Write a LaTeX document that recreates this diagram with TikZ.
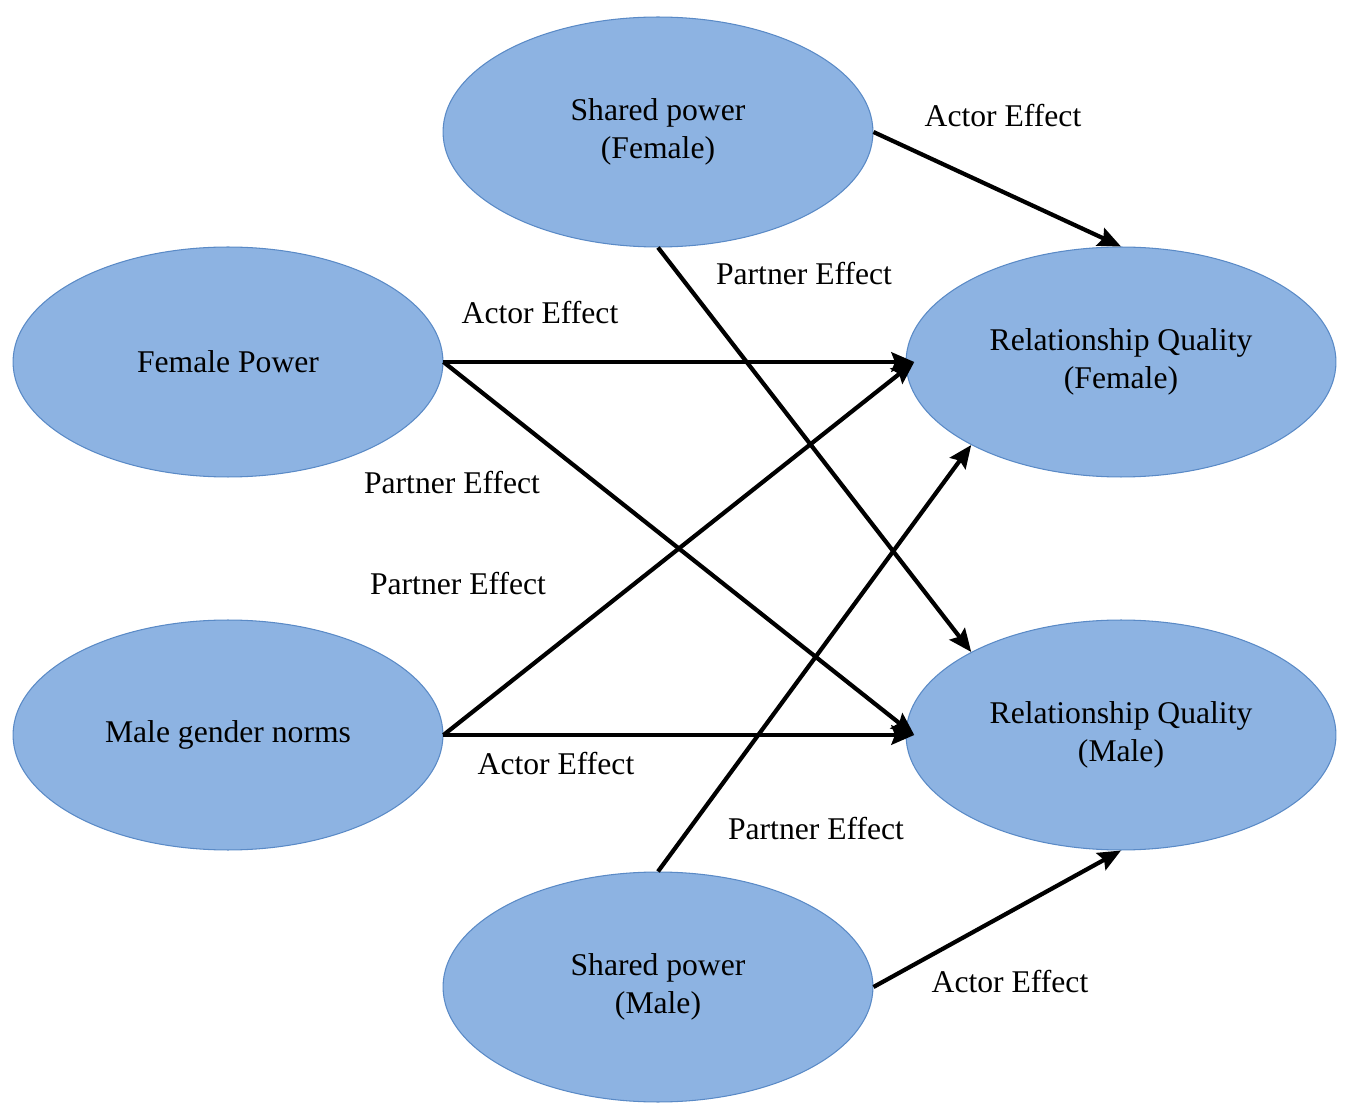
\documentclass[tikz,border=0pt]{standalone}
\usepackage{fontspec}
\setmainfont{Liberation Serif}
\usepackage{tikz}
\usetikzlibrary{shapes}
\usetikzlibrary{arrows.meta}
\definecolor{ovalfill}{HTML}{8DB3E2}
\definecolor{ovaledge}{HTML}{5A8AC6}
\tikzset{
  oval/.style={ellipse, draw=ovaledge, line width=0.6pt, fill=ovalfill,
    minimum width=8.6cm, minimum height=4.6cm, inner sep=0pt, align=center,
    font=\fontsize{18}{21.5}\selectfont},
  effect/.style={font=\fontsize{18}{21.5}\selectfont},
  path/.style={line width=2.4pt, -{Stealth[length=13pt,width=11pt,inset=2pt]}}
}
\begin{document}
\begin{tikzpicture}[x=0.02cm, y=-0.02cm]
              \useasboundingbox (0, 0) rectangle (1346, 1104);
              \node[oval] (spf) at (658, 132) {Shared power\\(Female)};
              \node[oval] (fp) at (228, 362) {Female Power};
              \node[oval] (mgn) at (228, 735) {Male gender norms};
              \node[oval] (spm) at (658, 987) {Shared power\\(Male)};
              \node[oval] (rqf) at (1121, 362) {Relationship Quality\\(Female)};
              \node[oval] (rqm) at (1121, 735) {Relationship Quality\\(Male)};
              \draw[path] (spf.east) -- (rqf.north);
              \draw[path] (spf.south) -- (rqm.151);
              \draw[path] (fp.east) -- ([xshift=5pt]rqf.west);
              \draw[path] (fp.east) -- ([xshift=5pt]rqm.west);
              \draw[path] (mgn.east) -- ([xshift=5pt]rqf.west);
              \draw[path] (mgn.east) -- ([xshift=5pt]rqm.west);
              \draw[path] (spm.north) -- (rqf.209);
              \draw[path] (spm.east) -- (rqm.south);
              \node[effect] (ae1) at (1003, 116) {Actor Effect};
              \node[effect] (pe1) at (804, 274) {Partner Effect};
              \node[effect] (ae2) at (540, 313) {Actor Effect};
              \node[effect] (pe2) at (452, 483) {Partner Effect};
              \node[effect] (pe3) at (458, 584) {Partner Effect};
              \node[effect] (ae3) at (556, 764) {Actor Effect};
              \node[effect] (pe4) at (816, 829) {Partner Effect};
              \node[effect] (ae4) at (1010, 982) {Actor Effect};
            \end{tikzpicture}
\end{document}
